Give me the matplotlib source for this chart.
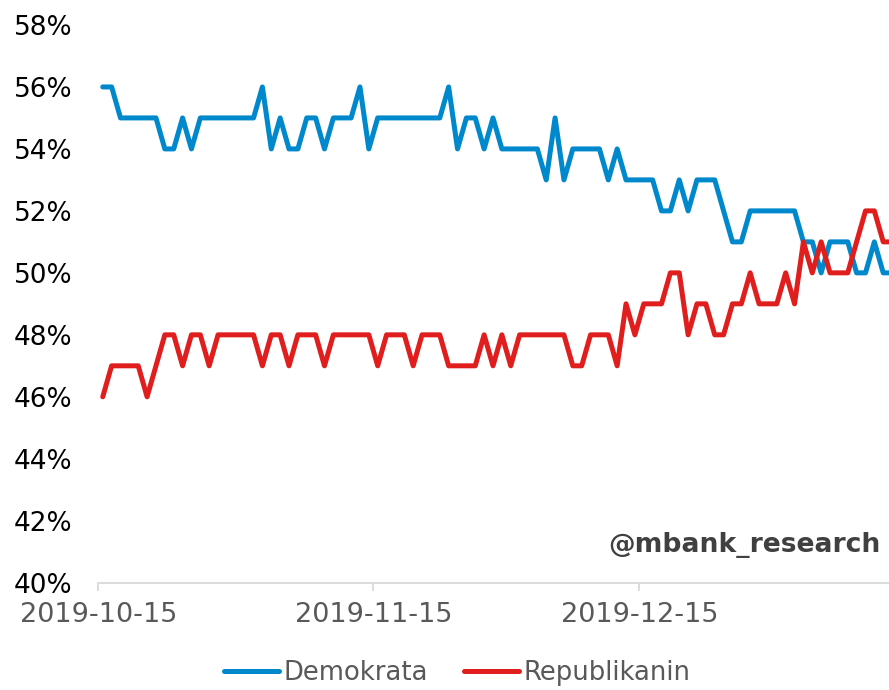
import matplotlib
matplotlib.use('Agg')
import matplotlib.pyplot as plt
import matplotlib.dates as mdates
import pandas as pd

# daily poll shares (%), starting 2019-10-15
demokrata = [56, 56, 55, 55, 55, 55, 55, 54, 54, 55,
             54, 55, 55, 55, 55, 55, 55, 55, 56, 54,
             55, 54, 54, 55, 55, 54, 55, 55, 55, 56,
             54, 55, 55, 55, 55, 55, 55, 55, 55, 56,
             54, 55, 55, 54, 55, 54, 54, 54, 54, 54,
             53, 55, 53, 54, 54, 54, 54, 53, 54, 53,
             53, 53, 53, 52, 52, 53, 52, 53, 53, 53,
             52, 51, 51, 52, 52, 52, 52, 52, 52, 51,
             51, 50, 51, 51, 51, 50, 50, 51, 50, 50]
republikanin = [46, 47, 47, 47, 47, 46, 47, 48, 48, 47,
                48, 48, 47, 48, 48, 48, 48, 48, 47, 48,
                48, 47, 48, 48, 48, 47, 48, 48, 48, 48,
                48, 47, 48, 48, 48, 47, 48, 48, 48, 47,
                47, 47, 47, 48, 47, 48, 47, 48, 48, 48,
                48, 48, 48, 47, 47, 48, 48, 48, 47, 49,
                48, 49, 49, 49, 50, 50, 48, 49, 49, 48,
                48, 49, 49, 50, 49, 49, 49, 50, 49, 51,
                50, 51, 50, 50, 50, 51, 52, 52, 51, 51]
start_date = '2019-10-15'
labels = ['Demokrata', 'Republikanin']

dates = pd.date_range(start_date, periods=len(demokrata), freq='D') + pd.Timedelta(hours=12)

fig = plt.figure(figsize=(8.89, 6.9), dpi=100)
ax = fig.add_axes([0.1106, 0.1555, 0.8894, 0.8083])

ax.plot(dates, demokrata, color='#0088CC', lw=3.6, label=labels[0],
        solid_joinstyle='round', solid_capstyle='round', clip_on=False)
ax.plot(dates, republikanin, color='#E01E1E', lw=3.6, label=labels[1],
        solid_joinstyle='round', solid_capstyle='round', clip_on=False)

x0 = pd.Timestamp(start_date)
ax.set_xlim(x0, x0 + pd.Timedelta(days=89.15))
ax.set_ylim(40, 58)
ax.set_yticks(range(40, 59, 2))
ax.set_yticklabels([f'{v}%' for v in range(40, 59, 2)])

ax.xaxis.set_major_locator(mdates.DayLocator(bymonthday=15))
ax.xaxis.set_major_formatter(mdates.DateFormatter('%Y-%m-%d'))

for s in ['top', 'right', 'left']:
    ax.spines[s].set_visible(False)
ax.spines['bottom'].set_color('#D9D9D9')
ax.spines['bottom'].set_linewidth(1.3)

ax.tick_params(axis='y', length=0, pad=18.5, labelsize=19, labelcolor='#000000')
ax.tick_params(axis='x', length=6, width=1.3, color='#D9D9D9', pad=8,
               labelsize=19.5, labelcolor='#595959')

ax.legend(loc='center', bbox_to_anchor=(457.5 / 889, (690 - 673) / 690), bbox_transform=fig.transFigure,
          ncol=2, frameon=False, fontsize=18.6, labelcolor='#595959',
          handlelength=2.1, handletextpad=0.2, columnspacing=1.4)

fig.text(881 / 889, (690 - 545) / 690, '@mbank_research', ha='right', va='center',
         fontsize=19.2, fontweight='bold', color='#404040')

fig.savefig('out.png', dpi=100)
